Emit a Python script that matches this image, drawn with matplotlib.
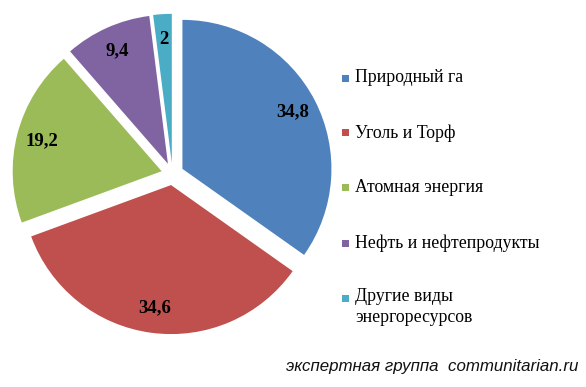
import matplotlib.pyplot as plt
from matplotlib.patches import Rectangle

# energy mix shares (%)
sources = [
    "Природный га",
    "Уголь и Торф",
    "Атомная энергия",
    "Нефть и нефтепродукты",
    "Другие виды\nэнергоресурсов",
]
shares = [34.8, 34.6, 19.2, 9.4, 2]
sliceColors = ["#4F81BD", "#C0504D", "#9BBB59", "#8064A2", "#4BACC6"]

W, H = 586, 387
fig = plt.figure(figsize=(W / 100, H / 100), dpi=100)
fig.patch.set_facecolor("white")

# pie centre ~ (172, 174) px, radius ~149 px
cx, cy, r = 172.5, 174, 149
half = 1.2 * r
ax = fig.add_axes([(cx - half) / W, (H - cy - half) / H, 2 * half / W, 2 * half / H])

valueIter = iter(shares)


def fmtValue(pct):
    v = next(valueIter)
    return f"{v:g}".replace(".", ",")


wedges, texts, autotexts = ax.pie(
    shares,
    colors=sliceColors,
    startangle=90,
    counterclock=False,
    explode=[0.075] * len(shares),
    autopct=fmtValue,
    pctdistance=0.83,
    wedgeprops={"linewidth": 0},
    textprops={"fontfamily": "Liberation Serif", "fontsize": 13.5, "fontweight": "bold", "color": "black"},
)
ax.set_xlim(-1.2, 1.2)
ax.set_ylim(-1.2, 1.2)
ax.set_aspect("equal")
ax.axis("off")

# legend drawn by hand so the marker lines up with the first text line
rowY = [78, 133, 188, 243, 298]
for i, name in enumerate(sources):
    y = rowY[i]
    fig.patches.append(
        Rectangle(((342) / W, (H - y - 3.5) / H), 7 / W, 7 / H,
                  transform=fig.transFigure, facecolor=sliceColors[i], edgecolor="none")
    )
    fig.text(355 / W, (H - y) / H, name, fontfamily="Liberation Serif", fontsize=12.8,
             va="top" if "\n" in name else "center", ha="left", color="black",
             linespacing=1.3)

fig.texts[-1].set_y((H - y + 10) / H)

fig.text(578 / W, (H - 366) / H, "экспертная группа  communitarian.ru",
         fontfamily="Liberation Sans", fontstyle="italic", fontsize=12.2,
         ha="right", va="center", color="#111111")

fig.savefig("out.png", dpi=100)
